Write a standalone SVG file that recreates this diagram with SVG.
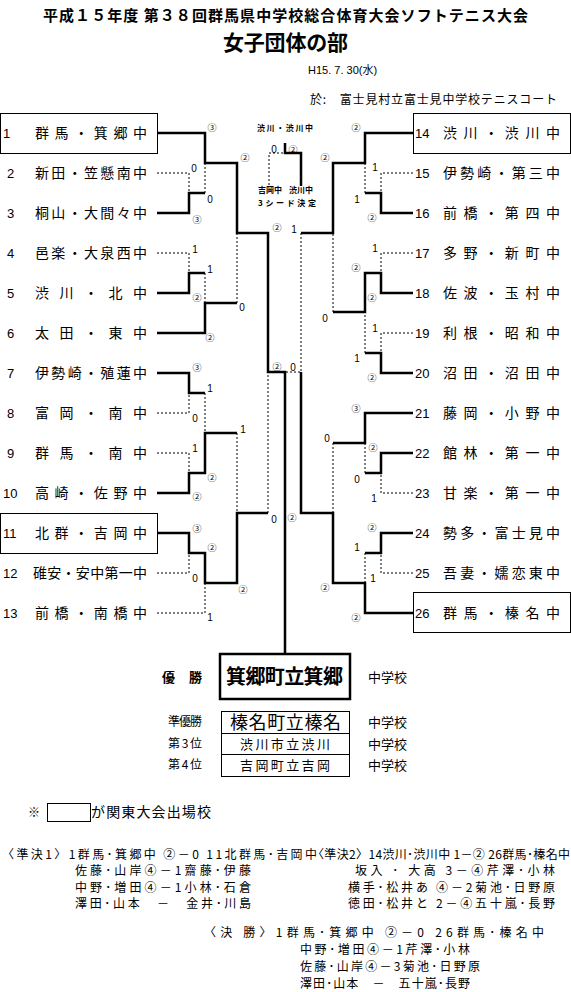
<svg xmlns="http://www.w3.org/2000/svg" width="571" height="992" viewBox="0 0 571 992">
<style>
text{font-family:"Liberation Sans","Noto Sans CJK JP",sans-serif;fill:#000}
.jp{font-family:"Noto Sans CJK JP",sans-serif}
.num{font-size:13px}
.nm{font-family:"Noto Sans CJK JP",sans-serif;font-size:14px}
.th{stroke:#000;stroke-width:2.5;fill:none}
.dt{stroke:#000;stroke-width:1;stroke-dasharray:2 2;fill:none}
.box{fill:none;stroke:#000;stroke-width:1}
.s{font-size:10px;text-anchor:middle}
.c{font-family:"Noto Sans CJK JP",sans-serif;font-size:9px;text-anchor:middle}
.sm{font-family:"Noto Sans CJK JP",sans-serif;font-size:8px;font-weight:bold}
.b{font-family:"Noto Sans CJK JP",sans-serif;font-size:12px}
.f{font-family:"Noto Sans CJK JP",sans-serif;font-size:12px}
</style>

<g id="title">
<text class="jp" x="43" y="21" font-size="15" font-weight="bold" textLength="485">平成１５年度 第３８回群馬県中学校総合体育大会ソフトテニス大会</text>
<text class="jp" x="223" y="50" font-size="21" font-weight="bold" textLength="125">女子団体の部</text>
<text x="308" y="74" font-size="11">H15. 7. 30(水)</text>
<text class="jp" x="310" y="104" font-size="12" textLength="247">於:　富士見村立富士見中学校テニスコート</text>
</g>

<g id="connectors">
<path class="th" d="M157,133H205V163H237V233H268V372H285V654"/>
<path class="th" d="M157,213H189V193H205"/>
<path class="th" d="M157,293H189V273H205"/>
<path class="th" d="M157,333H205V303H237"/>
<path class="th" d="M157,373H189V393H205"/>
<path class="th" d="M157,493H189V473H205V433H237"/>
<path class="th" d="M157,533H189V553H205V583H237V513H268"/>
<path class="dt" d="M157,173H189V193"/>
<path class="dt" d="M205,193V163"/>
<path class="dt" d="M157,253H189V273"/>
<path class="dt" d="M205,273V303"/>
<path class="dt" d="M237,303V233"/>
<path class="dt" d="M157,413H189V393"/>
<path class="dt" d="M205,393V433"/>
<path class="dt" d="M157,453H189V473"/>
<path class="dt" d="M237,433V513"/>
<path class="dt" d="M157,573H189V553"/>
<path class="dt" d="M157,613H205V583"/>
<path class="dt" d="M268,513V372"/>

<path class="th" d="M413,133H365V163H333V233H301"/>
<path class="th" d="M413,213H381V193H365"/>
<path class="th" d="M413,293H381V273H365V312H333"/>
<path class="th" d="M413,373H381V353H365"/>
<path class="th" d="M413,413H365V443H333"/>
<path class="th" d="M413,453H381V473H365"/>
<path class="th" d="M413,533H381V553H365"/>
<path class="th" d="M413,613H365V583H333V513H301V372"/>
<path class="dt" d="M413,173H381V193"/>
<path class="dt" d="M365,193V163"/>
<path class="dt" d="M413,253H381V273"/>
<path class="dt" d="M413,333H381V353"/>
<path class="dt" d="M365,353V312"/>
<path class="dt" d="M333,312V233"/>
<path class="dt" d="M301,233V372H285"/>
<path class="dt" d="M413,493H381V473"/>
<path class="dt" d="M365,473V443"/>
<path class="dt" d="M333,443V513"/>
<path class="dt" d="M413,573H381V553"/>
<path class="dt" d="M365,553V583"/>

<path class="th" d="M285,143V153H301V186"/>
<path class="dt" d="M269,185V153H285"/>
</g>

<g id="t1"><rect class="box" x="0.5" y="113.5" width="157" height="40"/><text class="num" x="3" y="138">1</text><text class="nm" x="35" y="138" textLength="112">群馬・箕郷中</text></g>
<g id="t2"><text class="num" x="7" y="178">2</text><text class="nm" x="35" y="178" textLength="112">新田・笠懸南中</text></g>
<g id="t3"><text class="num" x="7" y="218">3</text><text class="nm" x="35" y="218" textLength="112">桐山・大間々中</text></g>
<g id="t4"><text class="num" x="7" y="258">4</text><text class="nm" x="35" y="258" textLength="112">邑楽・大泉西中</text></g>
<g id="t5"><text class="num" x="7" y="298">5</text><text class="nm" x="35" y="298" textLength="112">渋川・北中</text></g>
<g id="t6"><text class="num" x="7" y="338">6</text><text class="nm" x="35" y="338" textLength="112">太田・東中</text></g>
<g id="t7"><text class="num" x="7" y="378">7</text><text class="nm" x="35" y="378" textLength="112">伊勢崎・殖蓮中</text></g>
<g id="t8"><text class="num" x="7" y="418">8</text><text class="nm" x="35" y="418" textLength="112">富岡・南中</text></g>
<g id="t9"><text class="num" x="7" y="458">9</text><text class="nm" x="35" y="458" textLength="112">群馬・南中</text></g>
<g id="t10"><text class="num" x="3" y="498">10</text><text class="nm" x="35" y="498" textLength="112">高崎・佐野中</text></g>
<g id="t11"><rect class="box" x="0.5" y="513.5" width="157" height="40"/><text class="num" x="3" y="538">11</text><text class="nm" x="35" y="538" textLength="112">北群・吉岡中</text></g>
<g id="t12"><text class="num" x="3" y="578">12</text><text class="nm" x="33" y="578" textLength="114">碓安・安中第一中</text></g>
<g id="t13"><text class="num" x="3" y="618">13</text><text class="nm" x="35" y="618" textLength="112">前橋・南橋中</text></g>

<g id="t14"><rect class="box" x="413.5" y="113.5" width="157" height="40"/><text class="num" x="415" y="138">14</text><text class="nm" x="443" y="138" textLength="117">渋川・渋川中</text></g>
<g id="t15"><text class="num" x="415" y="178">15</text><text class="nm" x="443" y="178" textLength="117">伊勢崎・第三中</text></g>
<g id="t16"><text class="num" x="415" y="218">16</text><text class="nm" x="443" y="218" textLength="117">前橋・第四中</text></g>
<g id="t17"><text class="num" x="415" y="258">17</text><text class="nm" x="443" y="258" textLength="117">多野・新町中</text></g>
<g id="t18"><text class="num" x="415" y="298">18</text><text class="nm" x="443" y="298" textLength="117">佐波・玉村中</text></g>
<g id="t19"><text class="num" x="415" y="338">19</text><text class="nm" x="443" y="338" textLength="117">利根・昭和中</text></g>
<g id="t20"><text class="num" x="415" y="378">20</text><text class="nm" x="443" y="378" textLength="117">沼田・沼田中</text></g>
<g id="t21"><text class="num" x="415" y="418">21</text><text class="nm" x="443" y="418" textLength="117">藤岡・小野中</text></g>
<g id="t22"><text class="num" x="415" y="458">22</text><text class="nm" x="443" y="458" textLength="117">館林・第一中</text></g>
<g id="t23"><text class="num" x="415" y="498">23</text><text class="nm" x="443" y="498" textLength="117">甘楽・第一中</text></g>
<g id="t24"><text class="num" x="415" y="538">24</text><text class="nm" x="443" y="538" textLength="117">勢多・富士見中</text></g>
<g id="t25"><text class="num" x="415" y="578">25</text><text class="nm" x="443" y="578" textLength="117">吾妻・嬬恋東中</text></g>
<g id="t26"><rect class="box" x="413.5" y="592.5" width="157" height="40"/><text class="num" x="415" y="618">26</text><text class="nm" x="443" y="618" textLength="117">群馬・榛名中</text></g>

<g id="third">
<text class="sm" x="257" y="131" font-size="9" textLength="56">渋川・渋川中</text>
<text class="sm" x="258" y="193" textLength="24">吉岡中</text>
<text class="sm" x="289" y="193" textLength="24">渋川中</text>
<text class="sm" x="258" y="206" font-size="9.5" textLength="58">3シード決定</text>
</g>

<g id="scores">
<text class="c" x="212" y="131">③</text>
<text class="c" x="245" y="161">②</text>
<text class="s" x="194" y="172">0</text>
<text class="c" x="197" y="223">③</text>
<text class="s" x="210" y="203">0</text>
<text class="c" x="277" y="231">②</text>
<text class="s" x="195" y="253">1</text>
<text class="s" x="210" y="273">1</text>
<text class="c" x="197" y="301">②</text>
<text class="s" x="242" y="311">0</text>
<text class="c" x="210" y="341">②</text>
<text class="c" x="197" y="371">③</text>
<text class="s" x="210" y="392">1</text>
<text class="s" x="195" y="422">0</text>
<text class="s" x="195" y="452">1</text>
<text class="c" x="212" y="481">②</text>
<text class="s" x="243" y="433">1</text>
<text class="c" x="197" y="500">②</text>
<text class="c" x="197" y="532">③</text>
<text class="s" x="274" y="523">0</text>
<text class="c" x="212" y="551">②</text>
<text class="s" x="195" y="582">0</text>
<text class="c" x="243" y="593">②</text>
<text class="s" x="210" y="621">1</text>

<text class="c" x="277" y="370">②</text>
<text class="s" x="293" y="371">0</text>
<text class="s" x="294" y="233">1</text>
<text class="c" x="292" y="521">②</text>
<text class="s" x="274" y="153">0</text>
<text class="c" x="293" y="153">②</text>

<text class="c" x="356" y="131">②</text>
<text class="c" x="325" y="161">②</text>
<text class="s" x="375" y="171">1</text>
<text class="s" x="357" y="203">1</text>
<text class="c" x="372" y="221">②</text>
<text class="s" x="375" y="252">1</text>
<text class="c" x="356" y="271">②</text>
<text class="c" x="372" y="301">②</text>
<text class="s" x="325" y="322">0</text>
<text class="s" x="375" y="332">1</text>
<text class="s" x="357" y="362">1</text>
<text class="c" x="372" y="381">②</text>
<text class="c" x="356" y="412">③</text>
<text class="s" x="327" y="442">0</text>
<text class="c" x="373" y="451">②</text>
<text class="s" x="357" y="483">0</text>
<text class="s" x="374" y="502">1</text>
<text class="c" x="372" y="531">②</text>
<text class="s" x="357" y="551">1</text>
<text class="s" x="373" y="582">1</text>
<text class="c" x="325" y="591">②</text>
<text class="c" x="356" y="621">②</text>
</g>

<g id="results">
<rect x="220" y="654" width="130" height="45" fill="none" stroke="#000" stroke-width="2.5"/>
<text class="jp" x="162" y="682" font-size="13" font-weight="bold" textLength="40">優　勝</text>
<text class="jp" x="226" y="684" font-size="20" font-weight="bold" textLength="117">箕郷町立箕郷</text>
<text class="jp" x="368" y="682" font-size="13" textLength="39">中学校</text>
<rect class="box" x="221.5" y="711.5" width="128" height="65"/>
<line x1="221.5" y1="733.5" x2="349.5" y2="733.5" stroke="#000"/>
<line x1="221.5" y1="754.5" x2="349.5" y2="754.5" stroke="#000"/>
<text class="jp" x="168" y="726" font-size="12" textLength="34">準優勝</text>
<text class="jp" x="230" y="729" font-size="18" textLength="111">榛名町立榛名</text>
<text class="jp" x="368" y="727" font-size="13" textLength="39">中学校</text>
<text class="jp" x="168" y="748" font-size="12" textLength="34">第3位</text>
<text class="jp" x="240" y="749" font-size="13" textLength="90">渋川市立渋川</text>
<text class="jp" x="368" y="749" font-size="13" textLength="39">中学校</text>
<text class="jp" x="168" y="769" font-size="12" textLength="34">第4位</text>
<text class="jp" x="240" y="770" font-size="13" textLength="90">吉岡町立吉岡</text>
<text class="jp" x="368" y="770" font-size="13" textLength="39">中学校</text>
</g>

<g id="notes">
<text class="jp" x="28" y="817" font-size="12">※</text>
<rect class="box" x="47.5" y="803.5" width="43" height="18"/>
<text class="jp" x="91" y="817" font-size="14" textLength="120">が関東大会出場校</text>
<text class="b" x="2" y="859" textLength="315">〈準決1〉1群馬･箕郷中 ②－0 11北群馬･吉岡中</text>
<text class="b" x="312" y="859" textLength="258">〈準決2〉14渋川･渋川中 1－② 26群馬･榛名中</text>
<text class="b" x="75" y="875" textLength="176">佐藤･山岸④－1齋藤･伊藤</text>
<text class="b" x="355" y="875" textLength="200">坂入 ･ 大高  3－④芹澤･小林</text>
<text class="b" x="75" y="892" textLength="176">中野･増田④－1小林･石倉</text>
<text class="b" x="348" y="892" textLength="207">横手･松井あ ④－2菊池･日野原</text>
<text class="b" x="75" y="908" textLength="176">澤田･山本　－　金井･川島</text>
<text class="b" x="348" y="908" textLength="207">徳田･松井と 2－④五十嵐･長野</text>
<text class="f" x="204" y="937" textLength="340">〈決 勝〉1群馬･箕郷中 ②－0 26群馬･榛名中</text>
<text class="f" x="300" y="954" textLength="170">中野･増田④－1芹澤･小林</text>
<text class="f" x="300" y="971" textLength="180">佐藤･山岸④－3菊池･日野原</text>
<text class="f" x="300" y="988" textLength="170">澤田･山本　－　五十嵐･長野</text>
</g>
</svg>
